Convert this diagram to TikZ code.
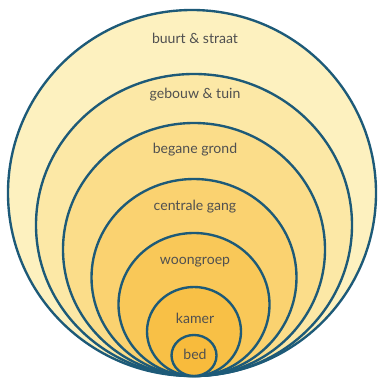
\documentclass[tikz,border=0pt]{standalone}
\usepackage{fontspec}
\setmainfont{Lato}
\usepackage{tikz}
\usetikzlibrary{positioning}

\definecolor{ringline}{HTML}{1D5A78}
\definecolor{ringA}{HTML}{FDF1BF}
\definecolor{ringB}{HTML}{FCE8A6}
\definecolor{ringC}{HTML}{FBDD8A}
\definecolor{ringD}{HTML}{FAD270}
\definecolor{ringE}{HTML}{F9C858}
\definecolor{ringF}{HTML}{F8C046}
\definecolor{ringG}{HTML}{F8BB3C}
\definecolor{labelgray}{HTML}{505050}

\tikzset{
  ring/.style={draw=ringline, line width=1.35pt},
  lbl/.style={text=labelgray, font=\fontsize{8}{10}\selectfont, inner sep=1pt}
}

\begin{document}
\begin{tikzpicture}[x=0.02cm, y=-0.02cm]
    \useasboundingbox (0,0) rectangle (381,378);
    % Nested spheres, all touching at the bottom
    \draw[ring, fill=ringA] (192,193) ellipse (184 and 183);
    \draw[ring, fill=ringB] (194,225) ellipse (158 and 151);
    \draw[ring, fill=ringC] (194,249.5) ellipse (131 and 126.5);
    \draw[ring, fill=ringD] (194,277.5) ellipse (102.5 and 98.5);
    \draw[ring, fill=ringE] (194,304.5) ellipse (75.5 and 71.5);
    \draw[ring, fill=ringF] (194,331.5) ellipse (47 and 44.5);
    \draw[ring, fill=ringG] (194,355.5) ellipse (22.5 and 20.5);
    % Labels
    \node[lbl] (buurt) at (195,38) {buurt \& straat};
    \node[lbl] (gebouw) at (195,95) {gebouw \& tuin};
    \node[lbl] (begane) at (195,150) {begane grond};
    \node[lbl] (gang) at (195,207) {centrale gang};
    \node[lbl] (woongroep) at (195,262) {woongroep};
    \node[lbl] (kamer) at (195,318) {kamer};
    \node[lbl] (bed) at (195,354) {bed};
\end{tikzpicture}
\end{document}
